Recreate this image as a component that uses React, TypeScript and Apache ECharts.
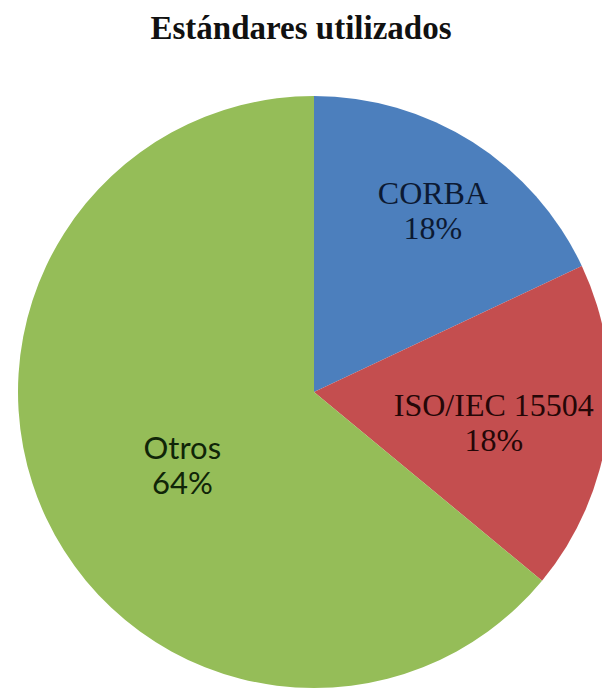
import React, { useEffect, useRef } from "react";
import * as echarts from "echarts";

const TITLE = "Estándares utilizados";
const categories = ["CORBA", "ISO/IEC 15504", "Otros"];
const values = [18, 18, 64];
const sliceColors = ["#4C7FBD", "#C44E4F", "#95BD58"];
const labelColors = ["#0c1a33", "#250707", "#102508"];
const labelFonts = ["Liberation Serif", "Liberation Serif", "Lato"];
const labelSizes = [32, 32, 31];
// label nudges relative to ECharts' default inside position (px)
const labelNudges = [
  [38, -54],
  [30, 12],
  [5, 8],
];

export default function App() {
  const ref = useRef<HTMLDivElement>(null);
  useEffect(() => {
    if (!ref.current) return;
    const chart = echarts.init(ref.current, null, { renderer: "svg" });
    chart.setOption({
      animation: false,
      backgroundColor: "#ffffff",
      title: {
        text: TITLE,
        left: "center",
        top: 6,
        textStyle: {
          fontFamily: "Liberation Serif",
          fontWeight: "bold",
          fontSize: 33,
          color: "#111111",
        },
      },
      series: [
        {
          type: "pie",
          center: [314, 392],
          radius: [0, 296],
          startAngle: 90,
          clockwise: true,
          avoidLabelOverlap: false,
          itemStyle: { borderWidth: 0 },
          label: {
            show: true,
            position: "inside",
            formatter: "{b}\n{d}%",
            lineHeight: 35,
          },
          labelLine: { show: false },
          labelLayout: (params: any) => {
            const n = labelNudges[params.dataIndex] || [0, 0];
            return { dx: n[0], dy: n[1] };
          },
          emphasis: { disabled: true },
          percentPrecision: 0,
          data: categories.map((c, i) => ({
            name: c,
            value: values[i],
            itemStyle: { color: sliceColors[i] },
            label: {
              color: labelColors[i],
              fontFamily: labelFonts[i],
              fontSize: labelSizes[i],
            },
          })),
        },
      ],
    });
    return () => chart.dispose();
  }, []);
  return (
    <div
      ref={ref}
      style={{ position: "fixed", left: 0, top: 0, width: 602, height: 690 }}
    />
  );
}
